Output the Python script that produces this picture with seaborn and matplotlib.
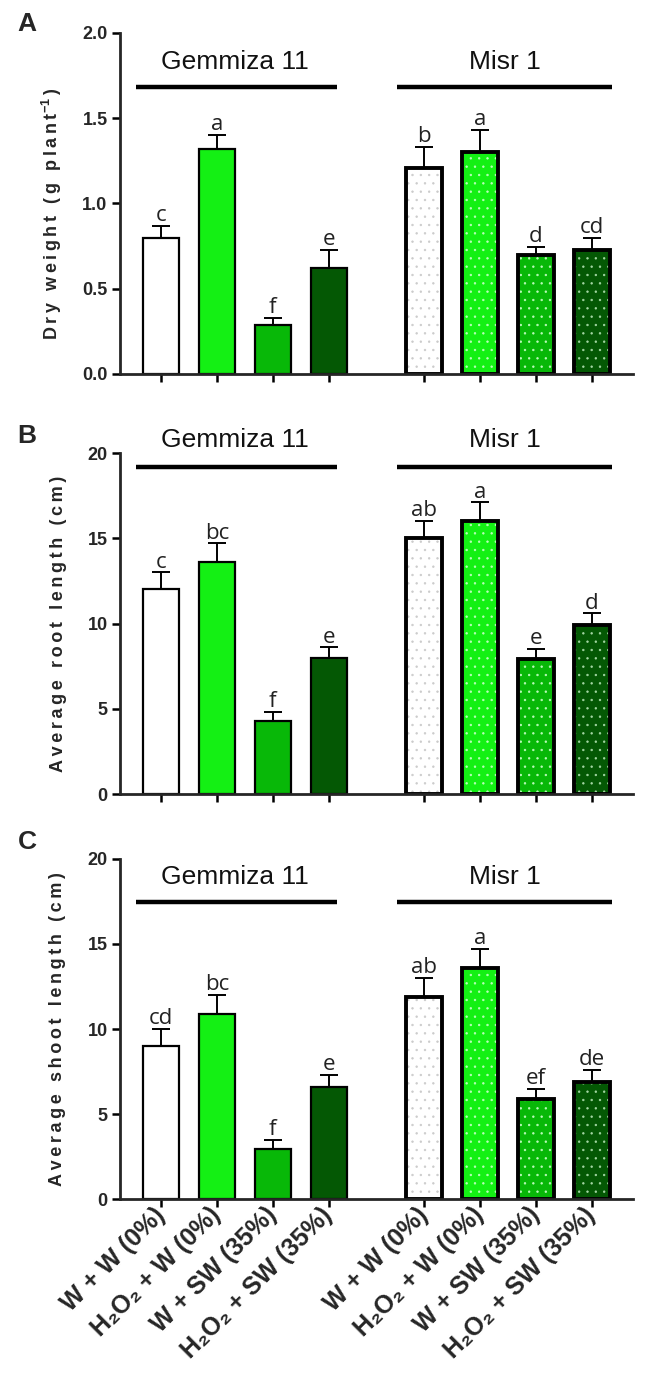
import numpy as np
import pandas as pd
import seaborn as sns
import matplotlib.pyplot as plt
from matplotlib.colors import to_rgba

sns.set_style('ticks')
plt.rcParams['font.family'] = ['Liberation Sans', 'DejaVu Sans']
plt.rcParams['hatch.linewidth'] = 0.5
plt.rcParams['mathtext.default'] = 'regular'

# data
treatments = ['W + W (0%)', 'H₂O₂ + W (0%)', 'W + SW (35%)', 'H₂O₂ + SW (35%)']
cultivars = ['Gemmiza 11', 'Misr 1']
positions = [0, 1, 2, 3, 4.7, 5.7, 6.7, 7.7]
bar_colors = ['#ffffff', '#14f014', '#08b808', '#045804',
              '#ffffff', '#14f014', '#08b808', '#045804']
dot_colors = ['#c8c8c8', '#c8ffc8', '#c8ffc8', '#b0e0b0']

dry_weight = [0.80, 1.32, 0.29, 0.62, 1.21, 1.30, 0.70, 0.73]
dry_weight_err = [0.07, 0.08, 0.04, 0.11, 0.12, 0.13, 0.045, 0.07]
dry_weight_letters = ['c', 'a', 'f', 'e', 'b', 'a', 'd', 'cd']

root_length = [12.0, 13.6, 4.3, 8.0, 15.0, 16.0, 7.9, 9.9]
root_length_err = [1.0, 1.1, 0.5, 0.6, 1.0, 1.1, 0.6, 0.7]
root_length_letters = ['c', 'bc', 'f', 'e', 'ab', 'a', 'e', 'd']

shoot_length = [9.0, 10.9, 2.95, 6.6, 11.9, 13.6, 5.9, 6.9]
shoot_length_err = [1.0, 1.1, 0.55, 0.7, 1.1, 1.1, 0.6, 0.7]
shoot_length_letters = ['cd', 'bc', 'f', 'e', 'ab', 'a', 'ef', 'de']


def spaced(s):
    return '\u2009'.join(s)


panels = [
    dict(tag='A', values=dry_weight, err=dry_weight_err, letters=dry_weight_letters,
         ylabel=spaced('Dry weight (g plant') + '$^{-1}$' + '\u2009)',
         ymax=2.0, yticks=[0, 0.5, 1.0, 1.5, 2.0], fmt='{:.1f}',
         rect=[0.185, 0.7288, 0.79, 0.2473], label_xy=(-0.133, 0.47),
         text_y=0.915, line_y=0.842, tag_y=24),
    dict(tag='B', values=root_length, err=root_length_err, letters=root_length_letters,
         ylabel=spaced('Average root length (cm)'),
         ymax=20, yticks=[0, 5, 10, 15, 20], fmt='{:.0f}',
         rect=[0.185, 0.4242, 0.79, 0.2473], label_xy=(-0.121, 0.5),
         text_y=1.038, line_y=0.959, tag_y=436),
    dict(tag='C', values=shoot_length, err=shoot_length_err, letters=shoot_length_letters,
         ylabel=spaced('Average shoot length (cm)'),
         ymax=20, yticks=[0, 5, 10, 15, 20], fmt='{:.0f}',
         rect=[0.185, 0.1305, 0.79, 0.2466], label_xy=(-0.123, 0.5),
         text_y=0.947, line_y=0.874, tag_y=842),
]

fig = plt.figure(figsize=(6.49, 13.79), dpi=100)

for k, pan in enumerate(panels):
    ax = fig.add_axes(pan['rect'])
    df = pd.DataFrame({
        'pos': positions,
        'value': pan['values'],
        'bar': [f'{c} | {t}' for c in cultivars for t in treatments],
    })
    sns.barplot(data=df, x='pos', y='value', hue='bar', palette=bar_colors,
                saturation=1, native_scale=True, dodge=False, legend=False, width=0.64,
                edgecolor='black', linewidth=1.6, errorbar=None, ax=ax)

    # Misr 1 bars: thicker outline and dotted fill
    for p in ax.patches:
        cx = p.get_x() + p.get_width() / 2
        i = int(np.argmin(np.abs(np.array(positions) - cx)))
        if i >= 4:
            p.set_linewidth(2.8)
            p.set_hatch('..')
            p._hatch_color = to_rgba(dot_colors[i - 4], 0.9)

    ax.errorbar(positions, pan['values'], yerr=[np.zeros(len(positions)), pan['err']],
                fmt='none', ecolor='black', elinewidth=1.4, capsize=6.5, capthick=1.4,
                zorder=3)

    off = pan['ymax'] * 0.014
    for x, v, e, s in zip(positions, pan['values'], pan['err'], pan['letters']):
        ax.text(x, v + e + off, s, ha='center', va='baseline', fontsize=16,
                family=['Open Sans', 'DejaVu Sans'], color='#222222')

    # cultivar headers
    tr = ax.get_xaxis_transform()
    for name, tx, (x0, x1) in [(cultivars[0], 1.32, (-0.45, 3.15)),
                               (cultivars[1], 6.15, (4.22, 8.05))]:
        ax.text(tx, pan['text_y'], name, transform=tr, ha='center', va='center',
                fontsize=19, color='#111111', clip_on=False)
        ax.plot([x0, x1], [pan['line_y'], pan['line_y']], transform=tr, color='black',
                lw=3.2, solid_capstyle='butt', clip_on=False)

    ax.set_xlim(-0.73, 8.43)
    ax.set_ylim(0, pan['ymax'])
    ax.set_yticks(pan['yticks'])
    ax.set_yticklabels([pan['fmt'].format(v) for v in pan['yticks']],
                       fontweight='bold', fontsize=13)
    ax.set_xticks(positions)
    if pan['tag'] == 'C':
        ax.set_xticklabels(treatments * 2, rotation=45, ha='right', va='center',
                           rotation_mode='anchor', fontweight='bold', fontsize=18)
    else:
        ax.set_xticklabels([])
    ax.set_xlabel('')
    ax.set_ylabel(pan['ylabel'], fontweight='bold', fontsize=13, va='center')
    ax.yaxis.set_label_coords(*pan['label_xy'])
    sns.despine(ax=ax)
    for sp in ['left', 'bottom']:
        ax.spines[sp].set_linewidth(2.0)
    ax.tick_params(axis='both', length=6, width=1.8, color='black', pad=3)

    fig.text(27 / 649, 1 - pan['tag_y'] / 1379, pan['tag'], fontsize=19,
             fontweight='bold', ha='center', va='center')

fig.savefig('out.png', dpi=100)
